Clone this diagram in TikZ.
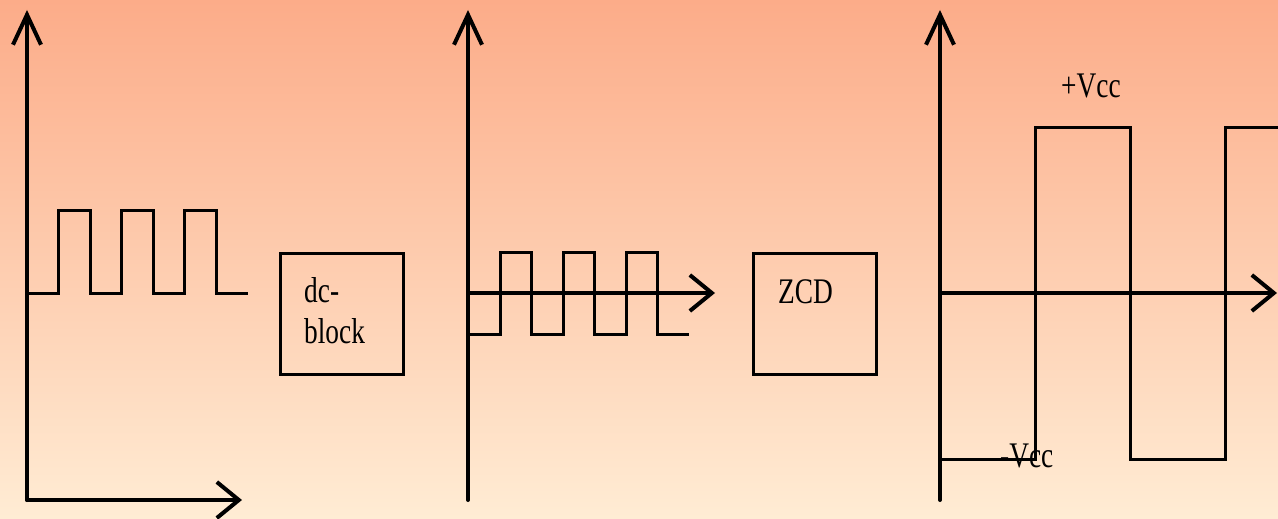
\documentclass[tikz,border=0pt]{standalone}
\usepackage{fontspec}
\setmainfont{Liberation Serif}[FakeStretch=0.76]
\usepackage{tikz}
\usetikzlibrary{arrows.meta,positioning}
\definecolor{bgtop}{RGB}{252,172,137}
\definecolor{bgbot}{RGB}{255,236,212}
\tikzset{
  axis/.style={line width=4pt, line cap=round},
  varr/.style={axis, -{Straight Barb[length=30pt, width=28pt, line width=4pt]}},
  harr/.style={axis, -{Straight Barb[length=22pt, width=36pt, line width=4pt]}},
  wave/.style={line width=3pt, line join=miter},
  blk/.style={draw, line width=3pt, minimum width=123pt, minimum height=121pt, inner sep=0pt},
  lbl/.style={font=\fontsize{36}{41}\selectfont, inner sep=0pt, anchor=base west, align=left}}

\begin{document}
\begin{tikzpicture}[x=1pt, y=-1pt]
  % background
  \shade[top color=bgtop, bottom color=bgbot] (0,0) rectangle (1278,519);
  \useasboundingbox (0,0) rectangle (1278,519);
  % pulse input
  \coordinate (o1) at (27,500);
  \draw[varr] (o1) -- (27,10);
  \draw[harr] (o1) -- (242,500);
  \draw[wave] (27,293) foreach \x in {58,121,184} {-- (\x,293) -- (\x,210) -- (\x+32,210) -- (\x+32,293)} -- (248,293);
  % dc-block
  \node[blk] (dcblk) at (342,314) {};
  \node[lbl] (dctxt) at (304,343) {dc-\\block};
  % after dc-block
  \coordinate (o2) at (468,293);
  \draw[varr] (468,500) -- (468,10);
  \draw[harr] (o2) -- (715,293);
  \draw[wave] (468,334) foreach \x in {500,563,626} {-- (\x,334) -- (\x,252) -- (\x+31,252) -- (\x+31,334)} -- (689,334);
  % ZCD
  \node[blk] (zcd) at (815,314) {};
  \node[lbl] (zcdtxt) at (778,303) {ZCD};
  % output
  \coordinate (o3) at (940,293);
  \draw[varr] (940,500) -- (940,10);
  \draw[harr] (o3) -- (1277,293);
  \draw[wave] (940,459) -- (1035,459) -- (1035,127) -- (1130,127) -- (1130,459) -- (1225,459) -- (1225,127) -- (1280,127);
  \node[lbl] (vpos) at (1061,97) {+Vcc};
  \node[lbl] (vneg) at (1000,467) {-Vcc};
\end{tikzpicture}
\end{document}
